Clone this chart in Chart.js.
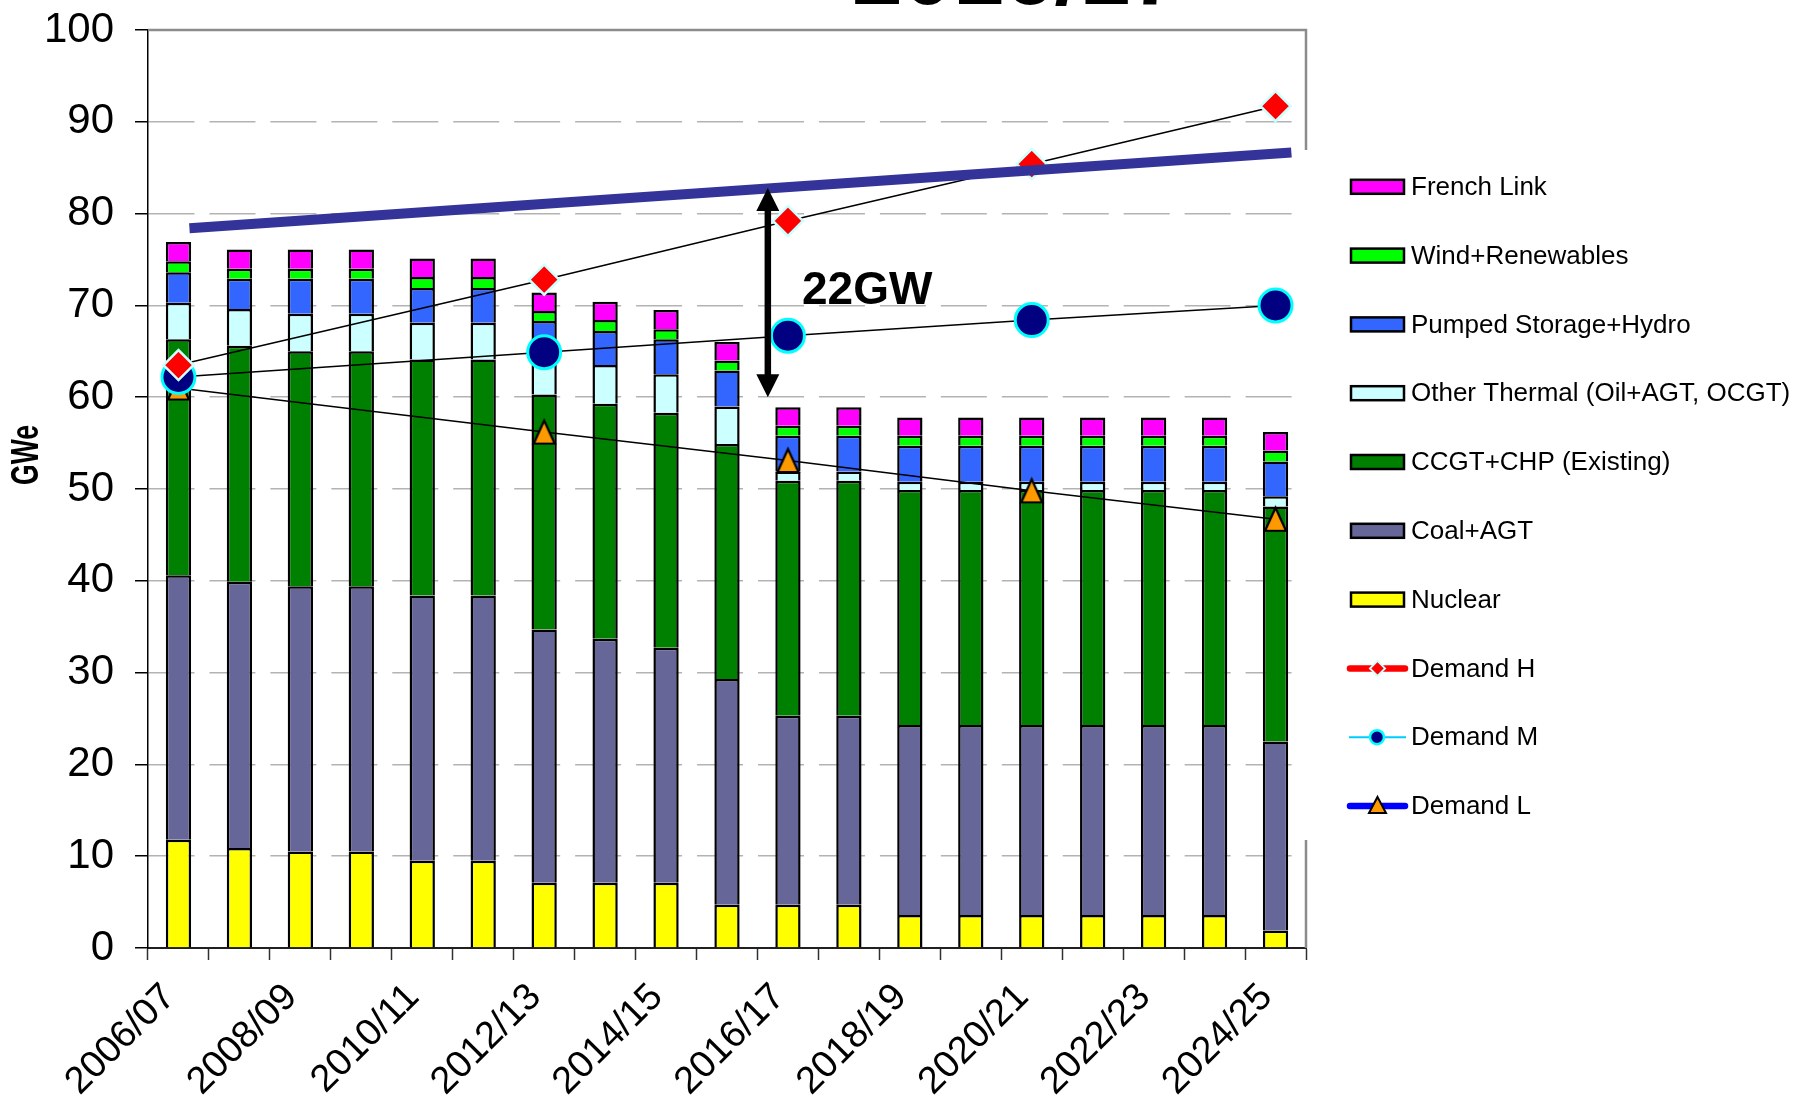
<!DOCTYPE html>
<html>
<head>
<meta charset="utf-8">
<title>Generation capacity vs demand</title>
<script src="https://cdn.jsdelivr.net/npm/chart.js@4.4.1/dist/chart.umd.min.js"></script>
<style>
  html, body { margin: 0; padding: 0; background: #ffffff; }
  #wrap { width: 1797px; height: 1101px; position: relative; }
</style>
</head>
<body>
<div id="wrap"><canvas id="chart" width="1797" height="1101"></canvas></div>
<script>
// ---- data (GWe) ----
const periods = ['2006/07','2007/08','2008/09','2009/10','2010/11','2011/12','2012/13','2013/14','2014/15','2015/16',
                 '2016/17','2017/18','2018/19','2019/20','2020/21','2021/22','2022/23','2023/24','2024/25'];

const nuclear      = [11.8,10.9,10.5,10.5, 9.5, 9.5, 7.1, 7.1, 7.1, 4.7, 4.7, 4.7, 3.6, 3.6, 3.6, 3.6, 3.6, 3.6, 1.9];
const coalAgt      = [28.8,29.0,28.9,28.9,28.9,28.9,27.6,26.6,25.6,24.6,20.6,20.6,20.7,20.7,20.7,20.7,20.7,20.7,20.6];
const ccgtChp      = [25.7,25.7,25.6,25.6,25.7,25.7,25.6,25.6,25.6,25.6,25.6,25.6,25.6,25.6,25.6,25.6,25.6,25.6,25.6];
const otherThermal = [ 4.0, 4.0, 4.1, 4.1, 4.0, 4.0, 4.0, 4.2, 4.2, 4.1, 1.0, 1.0, 0.9, 0.9, 0.9, 0.9, 0.9, 0.9, 1.1];
const pumpedHydro  = [ 3.3, 3.3, 3.8, 3.8, 3.8, 3.8, 4.0, 3.7, 3.8, 3.9, 3.9, 3.9, 3.9, 3.9, 3.9, 3.9, 3.9, 3.9, 3.8];
const windRenew    = [ 1.2, 1.1, 1.1, 1.1, 1.2, 1.2, 1.1, 1.2, 1.1, 1.1, 1.1, 1.1, 1.1, 1.1, 1.1, 1.1, 1.1, 1.1, 1.2];
const frenchLink   = [ 2.1, 2.1, 2.1, 2.1, 2.0, 2.0, 2.0, 2.0, 2.1, 2.0, 2.0, 2.0, 2.0, 2.0, 2.0, 2.0, 2.0, 2.0, 2.0];

const demandH = [63.5,null,null,null,null,null,72.8,null,null,null,79.2,null,null,null,85.4,null,null,null,91.7];
const demandM = [62.2,null,null,null,null,null,64.9,null,null,null,66.7,null,null,null,68.4,null,null,null,70.0];
const demandL = [61.0,null,null,null,null,null,56.2,null,null,null,53.1,null,null,null,49.8,null,null,null,46.7];

// required-capacity trend (x in category index units)
const capacityTrend = [{x: 0.18, y: 78.4}, {x: 18.26, y: 86.65}];

// gap annotation (category index / GWe)
const gapArrow = {x: 9.67, from: 60.0, to: 82.8};
const gapLabel = {text: '22GW', x: 10.23, y: 70.1};

const yTicks = [0,10,20,30,40,50,60,70,80,90,100];
const heading = '2016/17';

// ---- styling ----
const FONT = '"Liberation Sans", Arial, Helvetica, sans-serif';
const barSeries = [
  {label: 'Nuclear',                       data: nuclear,      color: '#ffff00'},
  {label: 'Coal+AGT',                      data: coalAgt,      color: '#666699'},
  {label: 'CCGT+CHP (Existing)',           data: ccgtChp,      color: '#008000'},
  {label: 'Other Thermal (Oil+AGT, OCGT)', data: otherThermal, color: '#ccffff'},
  {label: 'Pumped Storage+Hydro',          data: pumpedHydro,  color: '#3366ff'},
  {label: 'Wind+Renewables',               data: windRenew,    color: '#00ff00'},
  {label: 'French Link',                   data: frenchLink,   color: '#ff00ff'}
];

function triangleMarker(w, h, fill, stroke, lw) {
  const m = 4;
  const c = document.createElement('canvas');
  c.width = w + 2 * m; c.height = h + 2 * m;
  const g = c.getContext('2d');
  g.beginPath();
  g.moveTo(c.width / 2, m);
  g.lineTo(m + w, m + h);
  g.lineTo(m, m + h);
  g.closePath();
  g.fillStyle = fill; g.fill();
  g.lineWidth = lw; g.strokeStyle = stroke; g.lineJoin = 'miter'; g.stroke();
  return c;
}
const triMarker = triangleMarker(21, 23, '#ff9900', '#000000', 2.2);

const datasets = barSeries.map(s => ({
  type: 'bar',
  label: s.label,
  data: s.data,
  backgroundColor: s.color,
  borderColor: '#000000',
  borderWidth: 2.5,
  borderSkipped: 'start',
  stack: 'capacity',
  grouped: false,
  order: 10,
  barPercentage: 0.415,
  categoryPercentage: 1.0
}));

datasets.push(
  {type: 'line', label: 'Demand L', data: demandL, stack: 'dL', order: 3, spanGaps: true,
   borderColor: '#000000', borderWidth: 1.5, pointStyle: triMarker, pointRadius: 12},
  {type: 'line', label: 'Demand M', data: demandM, stack: 'dM', order: 2, spanGaps: true,
   borderColor: '#000000', borderWidth: 1.5, pointStyle: 'circle', pointRadius: 16.5,
   pointBackgroundColor: '#000080', pointBorderColor: '#00ffff', pointBorderWidth: 3},
  {type: 'line', label: 'Demand H', data: demandH, stack: 'dH', order: 1, spanGaps: true,
   borderColor: '#000000', borderWidth: 1.5, pointStyle: 'rectRot', pointRadius: 15,
   pointBackgroundColor: '#ff0000', pointBorderColor: '#ccffff', pointBorderWidth: 2.5},
  {type: 'line', label: 'Capacity trend', data: capacityTrend, xAxisID: 'xLin', stack: 'trend', order: 0,
   borderColor: '#333399', borderWidth: 10, pointRadius: 0, borderCapStyle: 'butt'}
);

// ---- legend entries (top to bottom) ----
const legendItems = barSeries.slice().reverse().map(s => ({kind: 'box', label: s.label, color: s.color}))
  .concat([
    {kind: 'H', label: 'Demand H'},
    {kind: 'M', label: 'Demand M'},
    {kind: 'L', label: 'Demand L'}
  ]);

const decorations = {
  id: 'decorations',
  beforeDatasetsDraw(chart) {
    const {ctx, chartArea: a} = chart;
    ctx.save();
    ctx.strokeStyle = '#8c8c8c';
    ctx.lineWidth = 2.5;
    ctx.beginPath();
    ctx.moveTo(a.left, a.top);
    ctx.lineTo(a.right, a.top);
    ctx.lineTo(a.right, a.bottom);
    ctx.stroke();
    ctx.restore();
  },
  afterDatasetsDraw(chart) {
    const {ctx} = chart;
    const xs = chart.scales.xLin, ys = chart.scales.y;
    // double-headed gap arrow
    const x = xs.getPixelForValue(gapArrow.x);
    const yTop = ys.getPixelForValue(gapArrow.to);
    const yBot = ys.getPixelForValue(gapArrow.from);
    const head = 23, half = 11.5;
    ctx.save();
    ctx.fillStyle = '#000';
    ctx.strokeStyle = '#000';
    ctx.lineWidth = 6.5;
    ctx.beginPath();
    ctx.moveTo(x, yTop + head - 2);
    ctx.lineTo(x, yBot - head + 2);
    ctx.stroke();
    ctx.beginPath();
    ctx.moveTo(x, yTop); ctx.lineTo(x + half, yTop + head); ctx.lineTo(x - half, yTop + head); ctx.closePath();
    ctx.fill();
    ctx.beginPath();
    ctx.moveTo(x, yBot); ctx.lineTo(x + half, yBot - head); ctx.lineTo(x - half, yBot - head); ctx.closePath();
    ctx.fill();
    ctx.font = 'bold 46px ' + FONT;
    ctx.textAlign = 'left';
    ctx.textBaseline = 'alphabetic';
    ctx.fillText(gapLabel.text, xs.getPixelForValue(gapLabel.x), ys.getPixelForValue(gapLabel.y));
    ctx.restore();
  },
  afterDraw(chart) {
    const {ctx} = chart;
    ctx.save();
    // heading (runs off the top edge)
    ctx.fillStyle = '#000';
    ctx.font = 'bold 91px ' + FONT;
    ctx.textAlign = 'left';
    ctx.textBaseline = 'alphabetic';
    ctx.fillText(heading, 852, 4);

    // y-axis title (condensed)
    ctx.save();
    ctx.translate(28, 455);
    ctx.rotate(-Math.PI / 2);
    ctx.scale(0.7, 1);
    ctx.font = 'bold 38px ' + FONT;
    ctx.textAlign = 'center';
    ctx.textBaseline = 'middle';
    ctx.fillText('GWe', 0, 0);
    ctx.restore();

    // legend panel
    ctx.fillStyle = '#ffffff';
    ctx.fillRect(1300, 150, 497, 690);
    const rowY0 = 186.8, rowStep = 68.8;
    legendItems.forEach((it, i) => {
      const y = rowY0 + i * rowStep;
      if (it.kind === 'box') {
        ctx.fillStyle = it.color;
        ctx.fillRect(1351, y - 7, 53, 14);
        ctx.strokeStyle = '#000';
        ctx.lineWidth = 2.5;
        ctx.strokeRect(1351, y - 7, 53, 14);
      } else if (it.kind === 'H') {
        ctx.strokeStyle = '#ff0000'; ctx.lineWidth = 6.5; ctx.lineCap = 'round';
        ctx.beginPath(); ctx.moveTo(1350, y); ctx.lineTo(1405, y); ctx.stroke();
        ctx.beginPath();
        ctx.moveTo(1377.5, y - 7.5); ctx.lineTo(1385, y); ctx.lineTo(1377.5, y + 7.5); ctx.lineTo(1370, y); ctx.closePath();
        ctx.fillStyle = '#ff0000'; ctx.fill();
        ctx.strokeStyle = '#ccffff'; ctx.lineWidth = 2; ctx.lineCap = 'butt'; ctx.stroke();
      } else if (it.kind === 'M') {
        ctx.strokeStyle = '#00ccff'; ctx.lineWidth = 2; ctx.lineCap = 'butt';
        ctx.beginPath(); ctx.moveTo(1349, y); ctx.lineTo(1406, y); ctx.stroke();
        ctx.beginPath(); ctx.arc(1377, y, 7, 0, Math.PI * 2);
        ctx.fillStyle = '#000080'; ctx.fill();
        ctx.strokeStyle = '#00ffff'; ctx.lineWidth = 2.5; ctx.stroke();
      } else {
        ctx.strokeStyle = '#0000ff'; ctx.lineWidth = 6.5; ctx.lineCap = 'round';
        ctx.beginPath(); ctx.moveTo(1350, y); ctx.lineTo(1405, y); ctx.stroke();
        ctx.lineCap = 'butt';
        ctx.beginPath();
        ctx.moveTo(1377.5, y - 9); ctx.lineTo(1386, y + 7); ctx.lineTo(1369, y + 7); ctx.closePath();
        ctx.fillStyle = '#ff9900'; ctx.fill();
        ctx.strokeStyle = '#000'; ctx.lineWidth = 2; ctx.stroke();
      }
      ctx.fillStyle = '#000';
      ctx.font = '26px ' + FONT;
      ctx.textAlign = 'left';
      ctx.textBaseline = 'middle';
      ctx.fillText(it.label, 1411, y + 1);
    });
    ctx.restore();
  }
};

new Chart(document.getElementById('chart'), {
  data: {labels: periods, datasets},
  options: {
    responsive: false,
    animation: false,
    events: [],
    layout: {padding: {left: 0, top: 30, right: 491, bottom: 0}},
    plugins: {legend: {display: false}, tooltip: {enabled: false}, title: {display: false}},
    scales: {
      x: {
        type: 'category',
        stacked: true,
        offset: true,
        afterFit(scale) { scale.height = 153; scale.paddingLeft = 0; scale.paddingRight = 0; },
        grid: {drawOnChartArea: false, drawTicks: true, tickLength: 12, tickColor: '#303030', tickWidth: 1.5, offset: true},
        border: {display: true, color: '#202020', width: 2},
        ticks: {
          autoSkip: false,
          minRotation: 45,
          maxRotation: 45,
          padding: 15,
          labelOffset: -9,
          color: '#000',
          font: {family: FONT, size: 38},
          callback(value, index) { return index % 2 === 0 ? periods[index] : ''; }
        }
      },
      xLin: {
        type: 'linear',
        display: false,
        min: -0.5,
        max: 18.5
      },
      y: {
        stacked: true,
        min: yTicks[0],
        max: yTicks[yTicks.length - 1],
        afterFit(scale) { scale.width = 148; scale.paddingTop = 0; scale.paddingBottom = 0; },
        afterBuildTicks(scale) { scale.ticks = yTicks.map(v => ({value: v})); },
        grid: {color: '#b3b3b3', lineWidth: 1.5, tickLength: 13, tickColor: '#000', tickWidth: 1.5},
        border: {display: true, color: '#000', width: 1.5, dash: [46, 14.95]},
        ticks: {padding: 21, color: '#000', font: {family: FONT, size: 42}}
      }
    }
  },
  plugins: [decorations]
});
</script>
</body>
</html>
